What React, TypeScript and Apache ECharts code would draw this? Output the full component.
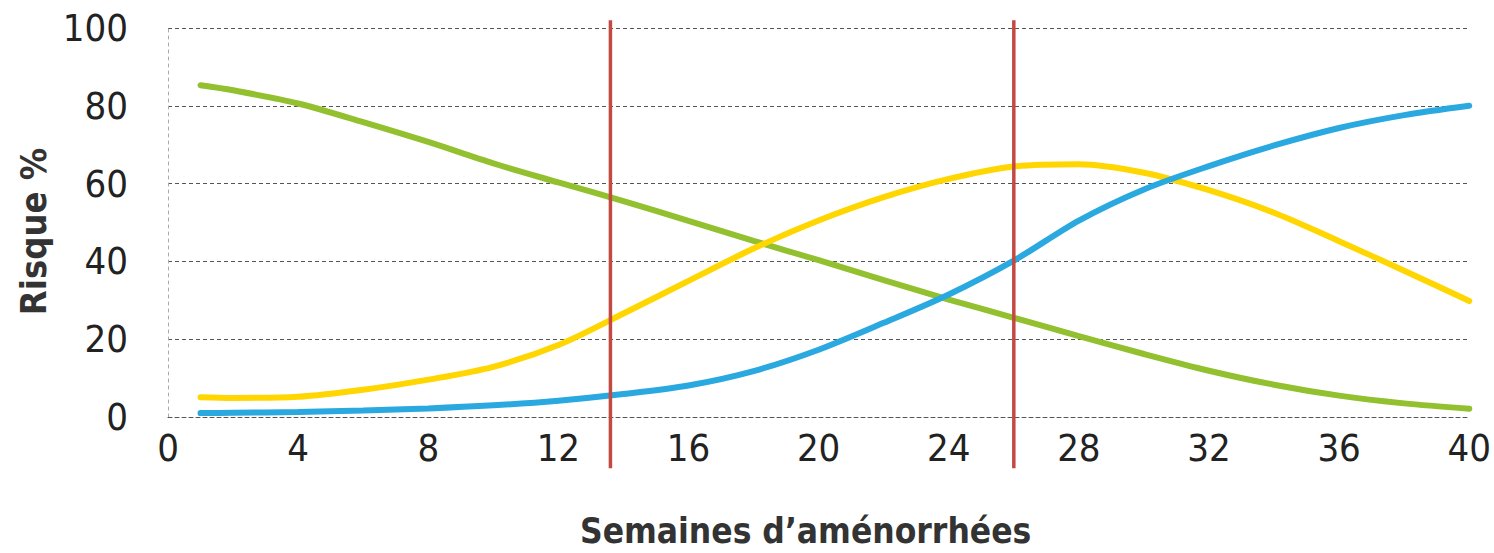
import React, { useEffect, useRef } from "react";
import * as echarts from "echarts";

const weeks = [1, 2, 4, 6, 8, 10, 12, 14, 16, 18, 20, 22, 24, 26, 28, 30, 32, 34, 36, 38, 40];
const greenRisk = [85.3, 84, 80.6, 75.8, 70.7, 65.2, 60.3, 55.5, 50.4, 45.3, 40.3, 35.2, 30.2, 25.5, 20.8, 16.2, 11.9, 8.3, 5.5, 3.5, 2.1];
const yellowRisk = [5.1, 4.9, 5.2, 7.0, 9.6, 12.9, 18.5, 26.6, 35, 43.3, 50.5, 56.5, 61.2, 64.4, 65.0, 62.8, 58.3, 52.5, 45.2, 37.6, 29.8];
const blueRisk = [1.0, 1.1, 1.3, 1.7, 2.2, 3.0, 4.2, 5.9, 8.1, 11.8, 17.3, 24.2, 31.5, 40.2, 50.5, 58.5, 64.5, 69.8, 74.3, 77.6, 80];
const limitWeeks = [13.6, 26];
const limitSpan = [102, -13.2];
const xTicks = [0, 4, 8, 12, 16, 20, 24, 28, 32, 36, 40];
const yTicks = [0, 20, 40, 60, 80, 100];

const FONT = "'DejaVu Sans Condensed', 'DejaVu Sans', sans-serif";

export default function App() {
  const ref = useRef<HTMLDivElement>(null);
  useEffect(() => {
    if (!ref.current) return;
    const chart = echarts.init(ref.current, null, { renderer: "svg" });
    const pair = (xs: number[], ys: number[]) => xs.map((x, i) => [x, ys[i]]);
    const limitSeries = limitWeeks.map((w, i) => ({
      type: "line",
      name: "limite " + (i + 1),
      data: limitSpan.map((v) => [w, v]),
      clip: false,
      symbol: "none",
      lineStyle: { color: "#C24A42", width: 3.5 },
      z: 5,
    }));
    chart.setOption({
      animation: false,
      backgroundColor: "#ffffff",
      grid: { left: 168, right: 23, top: 28, bottom: 133, containLabel: false },
      xAxis: {
        type: "value",
        min: 0,
        max: 40,
        interval: 4,
        name: "Semaines d’aménorrhées",
        nameLocation: "middle",
        nameGap: 96,
        nameTextStyle: {
          fontFamily: FONT,
          fontSize: 35,
          fontWeight: "bold",
          color: "#333",
          padding: [0, 26, 0, 0],
        },
        axisLine: { show: true, lineStyle: { color: "#555", width: 1, type: [4, 3] } },
        axisTick: { show: false },
        splitLine: { show: false },
        axisLabel: {
          fontFamily: FONT,
          fontSize: 38,
          color: "#222",
          margin: 12,
          formatter: (v: number) => (xTicks.includes(v) ? String(v) : ""),
        },
      },
      yAxis: {
        type: "value",
        min: 0,
        max: 100,
        interval: 20,
        name: "Risque %",
        nameLocation: "middle",
        nameRotate: 90,
        nameGap: 116,
        nameTextStyle: {
          fontFamily: FONT,
          fontSize: 36,
          fontWeight: "bold",
          color: "#333",
          padding: [0, 18, 0, 0],
        },
        axisLine: { show: true, lineStyle: { color: "#aaa", width: 1, type: [3, 4] } },
        axisTick: { show: false },
        splitLine: { show: true, lineStyle: { color: "#555", width: 1, type: [4, 3] } },
        axisLabel: {
          fontFamily: FONT,
          fontSize: 38,
          color: "#222",
          margin: 40,
          formatter: (v: number) => (yTicks.includes(v) ? String(v) : ""),
        },
      },
      series: [
        {
          type: "line",
          name: "vert",
          data: pair(weeks, greenRisk),
          smooth: 0.3,
          symbol: "none",
          lineStyle: { color: "#92C02F", width: 6, cap: "round" },
        },
        {
          type: "line",
          name: "jaune",
          data: pair(weeks, yellowRisk),
          smooth: 0.3,
          symbol: "none",
          lineStyle: { color: "#FFD600", width: 6, cap: "round" },
        },
        {
          type: "line",
          name: "bleu",
          data: pair(weeks, blueRisk),
          smooth: 0.3,
          symbol: "none",
          lineStyle: { color: "#2AA8E0", width: 6, cap: "round" },
        },
        ...limitSeries,
      ],
    });
    return () => chart.dispose();
  }, []);
  return (
    <div
      ref={ref}
      style={{ position: "fixed", left: 0, top: 0, width: 1494, height: 553, background: "#fff" }}
    />
  );
}
